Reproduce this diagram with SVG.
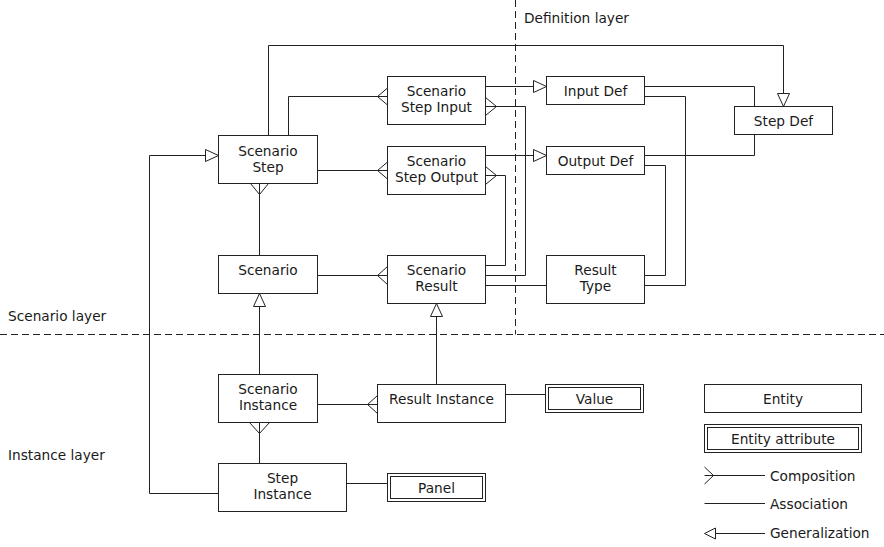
<svg xmlns="http://www.w3.org/2000/svg" width="884" height="547" viewBox="0 0 884 547">
<style>
.b{fill:#fff;stroke:#222;stroke-width:1}
.c{fill:none;stroke:#222;stroke-width:1}
.t{fill:#fff;stroke:#222;stroke-width:1}
.d{fill:none;stroke:#222;stroke-width:1;stroke-dasharray:7 4}
text{font-family:"DejaVu Sans","Liberation Sans",sans-serif;font-size:13.7px;fill:#1a1a1a}
.m{text-anchor:middle}
</style>
<rect width="884" height="547" fill="#fff"/>
<g id="layers">
<path class="d" d="M515.5,0 V334.5"/>
<path class="d" d="M0,334.5 H884"/>
<text x="524" y="23">Definition layer</text>
<text x="8" y="321">Scenario layer</text>
<text x="8" y="460">Instance layer</text>
</g>
<g id="connectors">
<path class="c" d="M268.5,135.5 V45.5 H783.5 V93.5"/>
<polygon class="t" points="777.5,93.5 789.5,93.5 783.5,106.5"/>
<path class="c" d="M288.5,135.5 V96.5 H387.5"/>
<path class="c" d="M387.5,88 L377.5,96.5 L387.5,105"/>
<path class="c" d="M317.5,170.5 H387.5"/>
<path class="c" d="M387.5,162 L377.5,170.5 L387.5,179"/>
<path class="c" d="M485.5,86.5 H533.5"/>
<polygon class="t" points="533.5,80.5 533.5,92.5 546.5,86.5"/>
<path class="c" d="M485.5,155.5 H533.5"/>
<polygon class="t" points="533.5,149.5 533.5,161.5 546.5,155.5"/>
<path class="c" d="M485.5,106.5 H525.5 V275.5 H485.5"/>
<path class="c" d="M485.5,97.5 L496.5,106.5 L485.5,115.5"/>
<path class="c" d="M485.5,175.5 H505.5 V265.5 H485.5"/>
<path class="c" d="M485.5,166.5 L496.5,175.5 L485.5,184.5"/>
<path class="c" d="M485.5,285.5 H546.5"/>
<path class="c" d="M644.5,86.5 H754.5 V106.5"/>
<path class="c" d="M644.5,96.5 H685.5 V285.5 H644.5"/>
<path class="c" d="M644.5,155.5 H754.5 V134.5"/>
<path class="c" d="M644.5,165.5 H665.5 V275.5 H644.5"/>
<path class="c" d="M259.5,183.5 V255.5"/>
<path class="c" d="M250.5,183.5 L259.5,194.5 L268.5,183.5"/>
<path class="c" d="M317.5,275.5 H387.5"/>
<path class="c" d="M387.5,266.5 L377.5,275.5 L387.5,284.5"/>
<path class="c" d="M259.5,374.5 V306.5"/>
<polygon class="t" points="253.5,306.5 265.5,306.5 259.5,293.5"/>
<path class="c" d="M436.5,384.5 V316.5"/>
<polygon class="t" points="430.5,316.5 442.5,316.5 436.5,303.5"/>
<path class="c" d="M317.5,404.5 H377.5"/>
<path class="c" d="M377.5,395.5 L367.5,404.5 L377.5,413.5"/>
<path class="c" d="M505.5,394.5 H545.5"/>
<path class="c" d="M259.5,422.5 V463.5"/>
<path class="c" d="M249.5,422.5 L259.5,433.5 L269.5,422.5"/>
<path class="c" d="M218.5,493.5 H149.5 V155.5 H205.5"/>
<polygon class="t" points="205.5,149.5 205.5,161.5 218.5,155.5"/>
<path class="c" d="M346.5,483.5 H387.5"/>
</g>
<g id="scenario-step"><rect class="b" x="218.5" y="135.5" width="99" height="48"/><text class="m" x="268" y="155.5">Scenario</text><text class="m" x="268" y="171.5">Step</text></g>
<g id="scenario-step-input"><rect class="b" x="387.5" y="76.5" width="98" height="48"/><text class="m" x="436.5" y="96">Scenario</text><text class="m" x="436.5" y="112">Step Input</text></g>
<g id="scenario-step-output"><rect class="b" x="387.5" y="146.5" width="98" height="48"/><text class="m" x="436.5" y="166">Scenario</text><text class="m" x="436.5" y="182">Step Output</text></g>
<g id="scenario"><rect class="b" x="218.5" y="255.5" width="99" height="38"/><text class="m" x="268" y="275">Scenario</text></g>
<g id="scenario-result"><rect class="b" x="387.5" y="255.5" width="98" height="48"/><text class="m" x="436.5" y="275">Scenario</text><text class="m" x="436.5" y="291">Result</text></g>
<g id="input-def"><rect class="b" x="546.5" y="76.5" width="98" height="28"/><text class="m" x="595.5" y="95.5">Input Def</text></g>
<g id="step-def"><rect class="b" x="734.5" y="106.5" width="98" height="28"/><text class="m" x="783.5" y="125.5">Step Def</text></g>
<g id="output-def"><rect class="b" x="546.5" y="146.5" width="98" height="28"/><text class="m" x="595.5" y="165.5">Output Def</text></g>
<g id="result-type"><rect class="b" x="546.5" y="255.5" width="98" height="48"/><text class="m" x="595.5" y="275">Result</text><text class="m" x="595.5" y="291">Type</text></g>
<g id="scenario-instance"><rect class="b" x="218.5" y="374.5" width="99" height="48"/><text class="m" x="268" y="394">Scenario</text><text class="m" x="268" y="410">Instance</text></g>
<g id="result-instance"><rect class="b" x="377.5" y="384.5" width="128" height="38"/><text class="m" x="441.5" y="404">Result Instance</text></g>
<g id="step-instance"><rect class="b" x="218.5" y="463.5" width="128" height="48"/><text class="m" x="282.5" y="483">Step</text><text class="m" x="282.5" y="499">Instance</text></g>
<g id="panel"><rect class="b" x="387.5" y="473.5" width="98" height="28"/><rect class="b" x="390.5" y="476.5" width="92" height="22"/><text class="m" x="436.5" y="493">Panel</text></g>
<g id="value"><rect class="b" x="545.5" y="384.5" width="98" height="28"/><rect class="b" x="548.5" y="387.5" width="92" height="22"/><text class="m" x="594.5" y="404">Value</text></g>
<g id="legend">
<g id="legend-entity"><rect class="b" x="704.5" y="384.5" width="157" height="28"/><text class="m" x="783" y="404">Entity</text></g>
<g id="legend-entity-attribute"><rect class="b" x="704.5" y="424.5" width="157" height="28"/><rect class="b" x="707.5" y="427.5" width="151" height="22"/><text class="m" x="783" y="444">Entity attribute</text></g>
<path class="c" d="M704.5,467 L713.5,475.5 L704.5,484 M704.5,475.5 H765"/>
<text x="770" y="480.5">Composition</text>
<path class="c" d="M704.5,503.5 H765"/>
<text x="770" y="509">Association</text>
<polygon class="t" points="704.5,533.5 715.5,528 715.5,539"/>
<path class="c" d="M715.5,533.5 H765"/>
<text x="770" y="538">Generalization</text>
</g>
</svg>
